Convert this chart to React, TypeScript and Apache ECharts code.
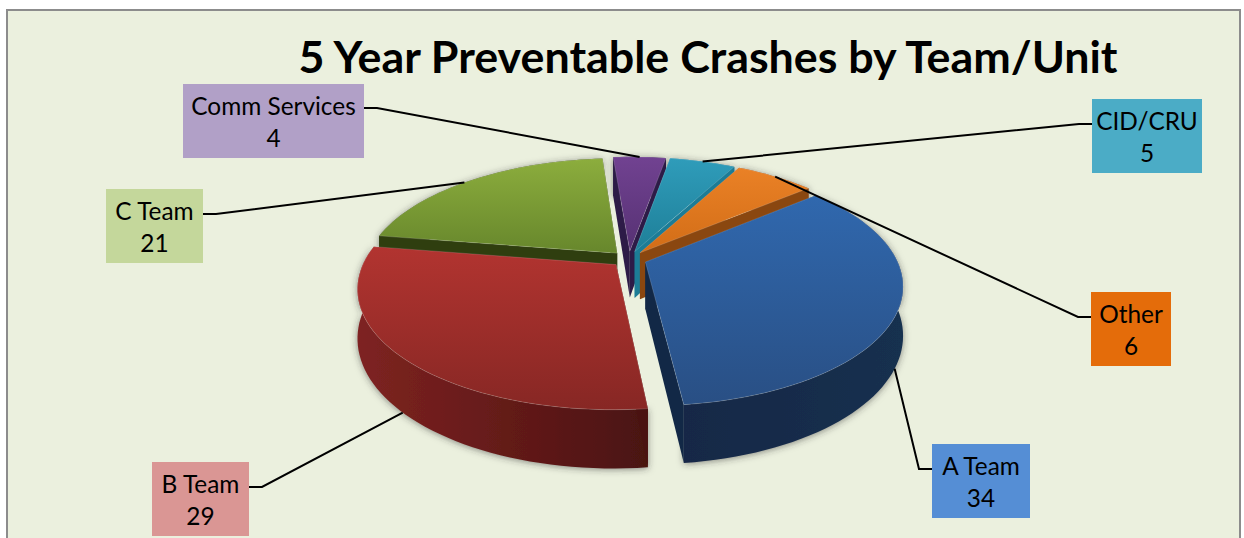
import React, { useEffect, useRef } from "react";
import * as echarts from "echarts";

const titleText = "5 Year Preventable Crashes by Team/Unit";
const teams = ["A Team", "B Team", "C Team", "Comm Services", "CID/CRU", "Other"];
const crashes = [34, 29, 21, 4, 5, 6];

// Painter's order for the exploded slices: far slices first.
const drawOrder = [2, 3, 4, 5, 0, 1];

const topColors = [
  ["#3068ae", "#294f84"],
  ["#b23430", "#872724"],
  ["#8cad3d", "#67872c"],
  ["#714291", "#563173"],
  ["#2f9cba", "#1e7f98"],
  ["#ea8126", "#d26d17"],
];
const wallColors = [
  ["#122846", "#14304f"],
  ["#7e2321", "#4a1211"],
  ["#2f3e0f", "#2c3a0e"],
  ["#2d1b47", "#241539"],
  ["#1c7c96", "#17697f"],
  ["#8a4710", "#7c3e0c"],
];
const boxColors = ["#558ed5", "#da9694", "#c4d79b", "#b1a0c7", "#4bacc6", "#e46c0a"];

// Callout boxes: [left, top, right, bottom], plus the side the leader leaves from.
const boxes = [
  { rect: [932, 444, 1030, 518], side: -1 },
  { rect: [152, 462, 249, 536], side: 1 },
  { rect: [106, 189, 203, 263], side: 1 },
  { rect: [183, 84, 364, 158], side: 1 },
  { rect: [1092, 99, 1202, 173], side: -1 },
  { rect: [1091, 292, 1171, 366], side: -1 },
];
const leaderY = [469, 487, 214, 108, 124, 317];
// Degrees by which each leader's end slides along its slice's rim.
const anchorShift = [4, 0, -2, 0, 0, 0];

const FONT = "Lato, Carlito, sans-serif";

// Perspective view of the disc.
const view = {
  cx: 629,
  cy: 259,
  radius: 251,
  squash: 115,
  depth: 47,
  camera: 5.24,
  explode: 0.07,
  startDeg: 50,
};

const total = crashes.reduce((a, b) => a + b, 0);
const spans = crashes.map((_, i) => {
  const before = crashes.slice(0, i).reduce((a, b) => a + b, 0);
  return [
    view.startDeg + (before / total) * 360,
    view.startDeg + ((before + crashes[i]) / total) * 360,
  ];
});

const rad = (d: number) => (d * Math.PI) / 180;

function project(u: number, v: number, z: number): number[] {
  const p = view.camera / (view.camera - v);
  return [view.cx + u * view.radius * p, view.cy + (v * view.squash + z * view.depth) * p];
}

function slicePoint(i: number, deg: number, r: number, z: number): number[] {
  const mid = rad((spans[i][0] + spans[i][1]) / 2);
  const a = rad(deg);
  const u = Math.sin(a) * r + Math.sin(mid) * view.explode;
  const v = -Math.cos(a) * r - Math.cos(mid) * view.explode;
  return project(u, v, z);
}

function arcPoints(i: number, z: number, reverse = false): number[][] {
  const [s, e] = spans[i];
  const steps = Math.max(4, Math.ceil((e - s) / 2));
  const pts: number[][] = [];
  for (let k = 0; k <= steps; k++) pts.push(slicePoint(i, s + ((e - s) * k) / steps, 1, z));
  return reverse ? pts.reverse() : pts;
}

const vertical = (c: string[]) =>
  new echarts.graphic.LinearGradient(0, 0, 0, 1, [
    { offset: 0, color: c[0] },
    { offset: 1, color: c[1] },
  ]);
const horizontal = (c: string[]) =>
  new echarts.graphic.LinearGradient(0, 0, 1, 0, [
    { offset: 0, color: c[0] },
    { offset: 1, color: c[1] },
  ]);

function renderSlice(_: any, api: any) {
  const i = api.value(0) as number;
  const [s, e] = spans[i];
  const cutWall = (deg: number) => ({
    type: "polygon",
    shape: {
      points: [
        slicePoint(i, deg, 0, 0),
        slicePoint(i, deg, 1, 0),
        slicePoint(i, deg, 1, 1),
        slicePoint(i, deg, 0, 1),
      ],
    },
    style: { fill: wallColors[i][i === 1 ? 1 : 0] },
  });
  return {
    type: "group",
    children: [
      {
        type: "polygon",
        shape: { points: [...arcPoints(i, 0), ...arcPoints(i, 1, true)] },
        style: {
          fill: horizontal(wallColors[i]),
          shadowBlur: 7,
          shadowColor: "rgba(50,50,50,0.55)",
          shadowOffsetY: 1,
        },
      },
      cutWall(s),
      cutWall(e),
      {
        type: "polygon",
        shape: { points: [slicePoint(i, s, 0, 0), ...arcPoints(i, 0)] },
        style: {
          fill: vertical(topColors[i]),
          stroke: "rgba(255,255,255,0.16)",
          lineWidth: 1,
        },
      },
    ],
  };
}

function renderCallout(_: any, api: any) {
  const i = api.value(0) as number;
  const { rect, side } = boxes[i];
  const [l, t, r, b] = rect;
  const mid = (spans[i][0] + spans[i][1]) / 2;
  const front = -Math.cos(rad(mid)) > 0;
  const anchor = slicePoint(i, mid + anchorShift[i], 1, front ? 1 : 0);
  const edge = side > 0 ? r : l;
  const y = leaderY[i];
  return {
    type: "group",
    children: [
      {
        type: "polyline",
        shape: { points: [[edge, y], [edge + side * 13, y], anchor] },
        style: { stroke: "#000", lineWidth: 2, fill: "none" },
      },
      {
        type: "rect",
        shape: { x: l, y: t, width: r - l, height: b - t },
        style: { fill: boxColors[i] },
      },
      {
        type: "text",
        style: {
          text: teams[i],
          x: (l + r) / 2,
          y: t + 21,
          align: "center",
          verticalAlign: "middle",
          font: `24.4px ${FONT}`,
          fill: "#000",
        },
      },
      {
        type: "text",
        style: {
          text: String(crashes[i]),
          x: (l + r) / 2,
          y: t + 53,
          align: "center",
          verticalAlign: "middle",
          font: `24.4px ${FONT}`,
          fill: "#000",
        },
      },
    ],
  };
}

export default function App() {
  const ref = useRef<HTMLDivElement>(null);
  useEffect(() => {
    document.body.style.margin = "0";
    const chart = echarts.init(ref.current!, undefined, { renderer: "svg" });
    chart.setOption({
      animation: false,
      backgroundColor: "#ffffff",
      title: {
        text: titleText,
        left: 703,
        top: 28,
        textAlign: "center",
        textStyle: { fontFamily: FONT, fontWeight: "bold", fontSize: 44.8, color: "#000" },
      },
      graphic: [
        {
          type: "rect",
          z: -1,
          shape: { x: 7, y: 10, width: 1233, height: 540 },
          style: { fill: "#ebf0de", stroke: "#8c8c8c", lineWidth: 2 },
        },
      ],
      series: [
        {
          type: "custom",
          name: "Preventable crashes",
          coordinateSystem: "none",
          renderItem: renderSlice,
          data: drawOrder.map((i) => ({ name: teams[i], value: [i, crashes[i]] })),
          z: 2,
        },
        {
          type: "custom",
          name: "Callouts",
          coordinateSystem: "none",
          renderItem: renderCallout,
          data: drawOrder.map((i) => ({ name: teams[i], value: [i, crashes[i]] })),
          z: 3,
        },
      ],
    });
    return () => chart.dispose();
  }, []);
  return <div ref={ref} style={{ width: 1244, height: 538 }} />;
}
